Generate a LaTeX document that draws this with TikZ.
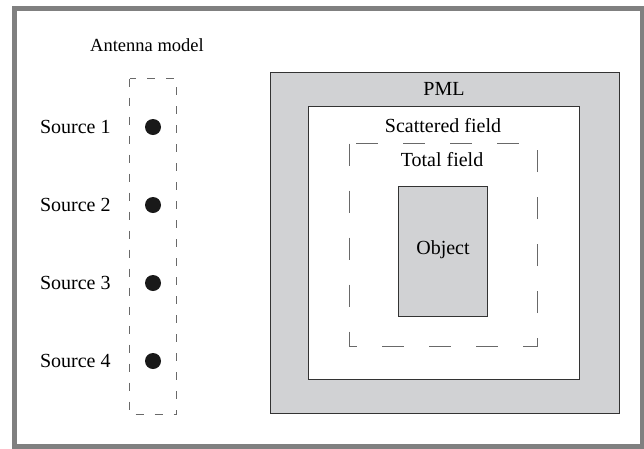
\documentclass[tikz,border=0pt]{standalone}
\usepackage{fontspec}
\setmainfont{Liberation Serif}
\usetikzlibrary{positioning}

\definecolor{pmlgray}{RGB}{209,210,212}
\definecolor{framegray}{RGB}{128,128,128}
\definecolor{dashgray}{RGB}{105,105,105}

\begin{document}
\begin{tikzpicture}[
        x=1pt,
        y=-1pt,
        every node/.style={font=\fontsize{20}{22}\selectfont},
        region/.style={draw=black!80, line width=1pt},
        antennabox/.style={draw=dashgray, line width=1pt, dash pattern=on 8pt off 11pt},
        tfbox/.style={draw=dashgray, line width=1pt, dash pattern=on 22pt off 25pt},
        source/.style={circle, fill=black!90, inner sep=0pt, minimum size=16pt}
    ]
    \useasboundingbox (0,0) rectangle (644,448);
    \draw[framegray, line width=5pt] (14.5,8.5) rectangle (642,446);

    % antenna model
    \draw[antennabox] (129.5,78.5) rectangle (176.5,414.5);
    \node[font=\fontsize{18.5}{20}\selectfont] (antenna) at (147,45) {Antenna model};
    \foreach \i/\yy in {1/127, 2/205, 3/283, 4/361} {
        \node[source] (s\i) at (153,\yy) {};
        \node[left=34pt of s\i, inner sep=0pt] (lab\i) {Source \i};
    }

    % computational domain
    \draw[region, fill=pmlgray] (270.5,72.5) rectangle (619,413);
    \draw[region, fill=white] (308.5,106.5) rectangle (579.5,379);
    \draw[tfbox] (349.5,143.5) rectangle (537,346);
    \draw[region, fill=pmlgray] (398.5,186.5) rectangle (487.5,316);

    \node (pml) at (444,89) {PML};
    \node (scat) at (443,126) {Scattered field};
    \node (total) at (442,160) {Total field};
    \node (object) at (443,250) {Object};
\end{tikzpicture}
\end{document}
